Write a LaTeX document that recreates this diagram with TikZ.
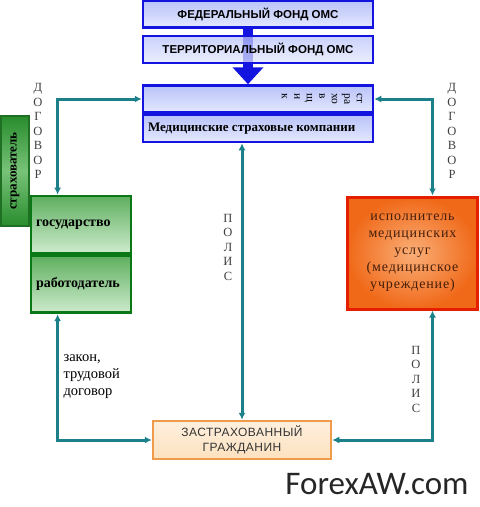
\documentclass[tikz,border=0pt]{standalone}
\usepackage{fontspec}
\setmainfont{Liberation Serif}
\newfontfamily\boxsans{Liberation Sans}
\newfontfamily\markfont{Carlito}
\newfontfamily\widefont[LetterSpace=6]{Liberation Serif}
\usetikzlibrary{arrows.meta,positioning}

\definecolor{linkteal}{RGB}{28,128,138}
\definecolor{fundblue}{RGB}{20,20,225}
\definecolor{fundtop}{RGB}{185,195,248}
\definecolor{fundbot}{RGB}{228,232,255}
\definecolor{payerline}{RGB}{10,120,20}
\definecolor{payertop}{RGB}{95,175,95}
\definecolor{payerbot}{RGB}{205,235,205}
\definecolor{insurerdark}{RGB}{40,140,45}
\definecolor{insurerlight}{RGB}{120,195,120}
\definecolor{execline}{RGB}{230,30,0}
\definecolor{execin}{RGB}{250,175,120}
\definecolor{execout}{RGB}{240,105,25}
\definecolor{exectext}{RGB}{70,30,10}
\definecolor{citline}{RGB}{240,155,75}
\definecolor{citfill}{RGB}{253,225,190}

\begin{document}
\begin{tikzpicture}[x=1pt,y=-1pt,
    >={Latex[length=7pt,width=7pt]},
    fund/.style={draw=fundblue, line width=2.5pt, top color=fundtop, bottom color=fundbot,
      minimum width=230pt, minimum height=27pt, inner sep=0pt,
      font=\boxsans\bfseries\fontsize{11.5}{14}\selectfont},
    insurer/.style={fund, font=\bfseries\fontsize{13}{16}\selectfont},
    payer/.style={draw=payerline, line width=2.8pt, top color=payertop, bottom color=payerbot,
      minimum width=100pt, minimum height=57pt, inner sep=0pt,
      font=\bfseries\fontsize{14}{16}\selectfont},
    bigarrow/.style={draw=fundblue, line width=10pt, -{Triangle[width=30pt,length=17pt]}},
    link/.style={draw=linkteal, line width=3pt, <->},
    spaced/.style={align=center, text=black!75, font=\fontsize{12.5}{14.5}\selectfont}
  ]
  \useasboundingbox (0,0) rectangle (480,507);

  % funds and insurers
  \node[fund] (fed) at (258,14) {ФЕДЕРАЛЬНЫЙ ФОНД ОМС};
  \node[insurer] (ins top) at (258,99) {};
  \node[insurer, below=0pt of ins top, anchor=north, text width=220pt, align=flush left] (ins bot)
    {Медицинские страховые компании};
  \node[rotate=-90, align=left, inner sep=0pt, font=\fontsize{11.5}{12.5}\selectfont]
    (insurer word) at (322,99) {ст\\ра\\хо\\в\\щ\\и\\к};
  \draw[bigarrow] ([xshift=-10pt]fed.south) -- ([xshift=-10pt]ins top.north);
  \node[fund, fill opacity=0.75, text opacity=1] (terr) at (258,49.5) {ТЕРРИТОРИАЛЬНЫЙ ФОНД ОМС};

  % payers
  \node[draw=insurerdark!80!black, line width=2.5pt, rotate=90,
    top color=insurerdark, bottom color=insurerdark, middle color=insurerlight,
    minimum width=110pt, minimum height=28pt, inner sep=0pt,
    font=\bfseries\fontsize{13}{15}\selectfont] (holder) at (15,171) {страхователь};
  \node[payer, text width=90pt, align=flush left] (gov) at (81,224.5) {государство};
  \node[payer, below=0pt of gov, text width=90pt, align=flush left] (emp) {работодатель};

  % provider
  \node[draw=execline, line width=3pt, inner color=execin, outer color=execout,
    minimum width=130pt, minimum height=112pt, align=center, text=exectext,
    font=\widefont\fontsize{14}{17}\selectfont] (exec) at (412.5,253)
    {исполнитель\\медицинских\\услуг\\(медицинское\\учреждение)};

  % insured person
  \node[draw=citline, line width=2.5pt, top color=citfill!50!white, bottom color=citfill,
    minimum width=178pt, minimum height=38pt, align=center, text=black!80,
    font=\boxsans\addfontfeatures{LetterSpace=4}\fontsize{12}{15}\selectfont] (cit) at (242,440)
    {ЗАСТРАХОВАННЫЙ\\ГРАЖДАНИН};

  % connectors
  \draw[link] (ins top.west) -| ([xshift=28pt]gov.north west);
  \draw[link] (ins top.east) -| ([xshift=20pt]exec.north);
  \draw[link] (cit.north |- ins bot.south) -- (cit.north);
  \draw[link] ([xshift=28pt]emp.south west) |- (cit.west);
  \draw[link] ([xshift=20pt]exec.south) |- (cit.east);

  % labels
  \node[spaced] (contract left) at (38,131) {Д\\О\\Г\\О\\В\\О\\Р};
  \node[spaced] (contract right) at (452,131) {Д\\О\\Г\\О\\В\\О\\Р};
  \node[spaced] (policy mid) at (228,247) {П\\О\\Л\\И\\С};
  \node[spaced] (policy right) at (416,379) {П\\О\\Л\\И\\С};
  \node[align=flush left, anchor=west, font=\fontsize{14.5}{17}\selectfont] (law) at (60,377)
    {закон,\\трудовой\\договор};

  \node[font=\markfont\fontsize{33}{33}\selectfont, text=black!85] (mark) at (377,484) {ForexAW.com};
\end{tikzpicture}
\end{document}
